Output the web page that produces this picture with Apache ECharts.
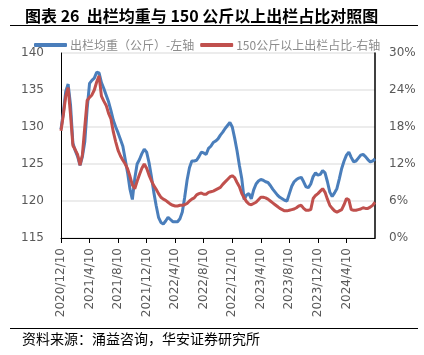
<!DOCTYPE html>
<html>
<head>
<meta charset="utf-8">
<script src="https://cdn.jsdelivr.net/npm/echarts@6/dist/echarts.min.js"></script>
<style>
html,body{margin:0;padding:0;background:#fff;}
#c{width:424px;height:355px;}
</style>
</head>
<body>
<div id="c"></div>
<script>
// 10-day sampling from 2020/12/10; axis labels every 4 months
const startYear = 2020, startMonth = 12;
const pointCount = 133;
const seriesNames = ['出栏均重（公斤）-左轴', '150公斤以上出栏占比-右轴'];

// 出栏均重（公斤）
const avgWeight = [
129.7,132.0,134.8,135.8,133.0,127.8,126.8,126.0,124.8,126.0,
128.0,132.5,135.9,136.3,136.6,137.4,137.3,136.0,135.2,134.3,
133.4,132.2,130.9,130.0,129.2,128.3,127.4,125.6,123.8,121.6,
120.2,123.0,125.0,125.6,126.4,127.0,126.6,125.2,123.3,121.2,
119.4,117.8,117.1,116.9,117.3,117.8,117.5,117.2,117.2,117.2,
117.6,118.5,120.5,122.8,124.5,125.4,125.4,125.5,126.0,126.6,
126.5,126.3,127.1,127.4,127.9,128.1,128.4,128.9,129.3,129.8,
130.2,130.6,130.0,128.5,126.8,124.8,123.0,120.2,120.8,121.0,
120.3,121.5,122.3,122.7,122.9,122.8,122.6,122.5,122.1,121.6,
121.2,120.8,120.5,120.3,120.1,120.0,121.0,122.0,122.6,122.9,
123.1,123.2,122.6,121.9,121.8,122.3,123.3,123.8,123.5,123.6,
124.1,123.8,122.6,121.2,120.6,121.1,121.7,123.0,124.4,125.4,
126.2,126.6,125.9,125.3,125.4,125.8,126.2,126.3,126.0,125.6,
125.3,125.4,125.7
];

// 150公斤以上出栏占比（%）
const share150 = [
17.4,20.0,23.0,24.4,20.0,15.0,14.3,13.5,11.8,13.5,
18.0,22.3,22.8,23.2,24.0,25.3,26.3,23.0,22.2,21.5,
20.2,19.3,17.2,15.6,14.2,13.3,12.6,12.0,11.2,10.0,
8.6,8.0,9.2,10.3,11.3,12.0,11.3,10.2,9.3,8.5,
7.9,7.2,6.6,6.3,6.1,5.8,5.5,5.3,5.2,5.2,
5.3,5.3,5.4,5.6,6.0,6.3,6.5,7.0,7.2,7.3,
7.1,7.1,7.4,7.5,7.6,7.8,8.0,8.2,8.7,9.1,
9.5,9.9,10.1,9.8,9.0,8.3,7.2,6.5,5.9,5.5,
5.4,5.6,5.8,6.2,6.6,6.6,6.5,6.3,6.0,5.7,
5.4,5.1,4.8,4.6,4.4,4.4,4.5,4.6,4.7,4.9,
5.2,5.3,4.8,4.5,4.5,4.6,6.4,6.9,7.2,7.6,
8.0,7.4,6.3,5.3,4.8,4.4,4.2,4.4,4.6,5.4,
6.4,6.2,4.6,4.5,4.5,4.6,4.7,4.9,4.8,4.8,
5.0,5.3,5.8
];

const leftTicks = {min:115, max:140, interval:5};
const rightTicks = {min:0, max:30, interval:6};

// build date categories
const monthEnd = [31,28,31,30,31,30,31,31,30,31,30,31];
const dates = [];
{
  let y = startYear, m = startMonth, k = 0;
  while (dates.length < pointCount) {
    const d = k === 0 ? 10 : (k === 1 ? 20 : Math.min(30, monthEnd[m-1]));
    dates.push(y + '/' + m + '/' + d);
    k++;
    if (k === 3) { k = 0; m++; if (m > 12) { m = 1; y++; } }
  }
}

const showLbl = (i) => i % 12 === 0 && i < pointCount - 1;

const chart = echarts.init(document.getElementById('c'), null, {renderer:'canvas'});
chart.setOption({
  animation:false,
  backgroundColor:'#fff',
  title:{
    text:'图表 26  出栏均重与 150 公斤以上出栏占比对照图',
    left:20, top:3,
    textStyle:{fontSize:16, fontWeight:'bold', color:'#000', fontFamily:'"Noto Sans CJK SC", sans-serif'}
  },
  graphic:[
    {type:'line', shape:{x1:10,y1:25.5,x2:418,y2:25.5}, style:{stroke:'#000', lineWidth:1}},
    {type:'line', shape:{x1:10,y1:328.5,x2:418,y2:328.5}, style:{stroke:'#000', lineWidth:1}},
    {type:'text', left:22, top:332, style:{text:'资料来源：涌益咨询，华安证券研究所', fontSize:14, fill:'#000', fontFamily:'"Noto Sans CJK SC", sans-serif'}}
  ],
  legend:{
    left:29, top:34,
    itemWidth:33, itemHeight:4, itemGap:6,
    icon:'roundRect',
    textStyle:{fontSize:12, color:'#8c8c8c', fontFamily:'"Noto Sans CJK SC", sans-serif', padding:[0,0,0,-2]},
    data:seriesNames
  },
  grid:{left:61, right:49, top:53, bottom:117, containLabel:false},
  xAxis:{
    type:'category', boundaryGap:false, data:dates,
    axisLine:{lineStyle:{color:'#000', width:1}},
    axisTick:{show:true, interval:(i)=>showLbl(i), length:5, lineStyle:{color:'#000'}},
    axisLabel:{interval:(i)=>showLbl(i), rotate:90, margin:10, fontSize:12, color:'#595959', fontFamily:'"DejaVu Sans", sans-serif'},
    splitLine:{show:false}
  },
  yAxis:[
    {type:'value', min:leftTicks.min, max:leftTicks.max, interval:leftTicks.interval,
     axisLine:{show:true, lineStyle:{color:'#000', width:1}},
     axisTick:{show:false},
     axisLabel:{margin:17, fontSize:12, color:'#595959', fontFamily:'"DejaVu Sans", sans-serif'},
     splitLine:{show:true, lineStyle:{color:'#e6e6e6', width:1.5}}},
    {type:'value', min:rightTicks.min, max:rightTicks.max, interval:rightTicks.interval, position:'right',
     axisLine:{show:true, lineStyle:{color:'#000', width:1.5}},
     axisTick:{show:false},
     axisLabel:{margin:14, fontSize:12, color:'#595959', formatter:'{value}%', fontFamily:'"DejaVu Sans", sans-serif'},
     splitLine:{show:false}}
  ],
  series:[
    {name:seriesNames[0], type:'line', yAxisIndex:0, data:avgWeight, showSymbol:false, symbol:'none',
     itemStyle:{color:'#4a7ebb'}, lineStyle:{color:'#4a7ebb', width:3}},
    {name:seriesNames[1], type:'line', yAxisIndex:1, data:share150, showSymbol:false, symbol:'none',
     itemStyle:{color:'#c0504d'}, lineStyle:{color:'#c0504d', width:3}}
  ]
});
</script>
</body>
</html>
